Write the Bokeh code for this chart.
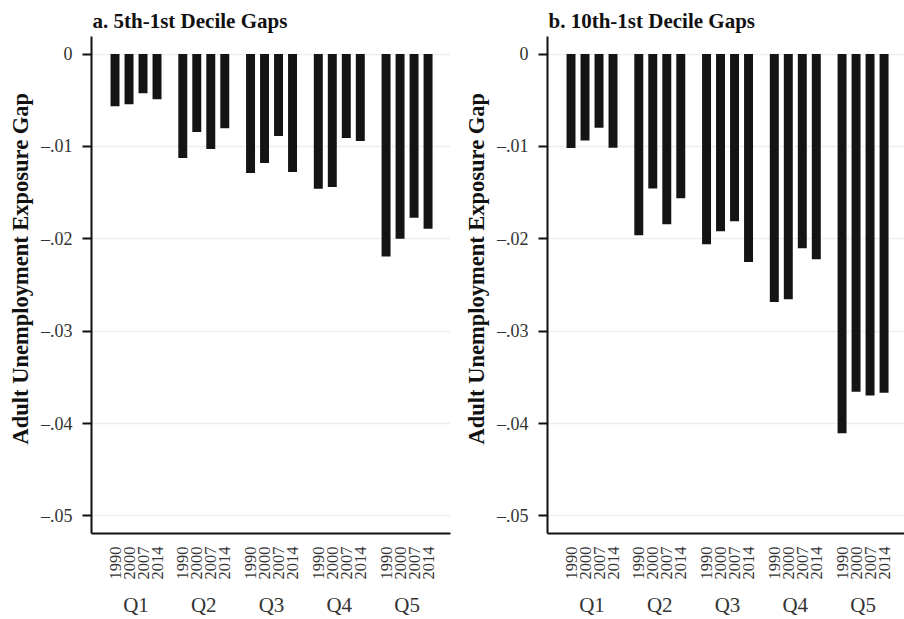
import math
from bokeh.plotting import figure
from bokeh.models import (ColumnDataSource, Range1d, LinearAxis, FixedTicker,
                          CustomJSTickFormatter, Title)
from bokeh.layouts import row
from bokeh.embed import file_html
from bokeh.resources import INLINE

# ---------------- data ----------------
quintiles = ["Q1", "Q2", "Q3", "Q4", "Q5"]
years = ["1990", "2000", "2007", "2014"]

# panel a: 5th-1st decile gaps (by quintile, years 1990/2000/2007/2014)
gap_5_1 = [
    -0.00565, -0.00543, -0.00424, -0.00489,   # Q1
    -0.01125, -0.00845, -0.01028, -0.00802,   # Q2
    -0.01287, -0.01179, -0.00888, -0.01276,   # Q3
    -0.01459, -0.01438, -0.00910, -0.00942,   # Q4
    -0.02192, -0.01998, -0.01772, -0.01890,   # Q5
]
# panel b: 10th-1st decile gaps
gap_10_1 = [
    -0.01016, -0.00937, -0.00797, -0.01013,   # Q1
    -0.01961, -0.01455, -0.01843, -0.01562,   # Q2
    -0.02058, -0.01918, -0.01810, -0.02252,   # Q3
    -0.02683, -0.02654, -0.02101, -0.02220,   # Q4
    -0.04106, -0.03656, -0.03696, -0.03667,   # Q5
]
y_ticks = [0, -0.01, -0.02, -0.03, -0.04, -0.05]

titles = ["a. 5th-1st Decile Gaps", "b. 10th-1st Decile Gaps"]
y_label = "Adult Unemployment Exposure Gap"

# ---------------- layout helpers ----------------
GROUP_STEP = 4.84
BAR_W = 0.64
pos = [g * GROUP_STEP + j for g in range(len(quintiles)) for j in range(len(years))]
year_labels = [y for _ in quintiles for y in years]
group_centers = [g * GROUP_STEP + (len(years) - 1) / 2 for g in range(len(quintiles))]

SERIF = "Liberation Serif"
BAR_COLOR = "#141414"
LOOKUP = """
    for (let k = 0; k < pos.length; k++) {
        if (Math.abs(pos[k] - tick) < 1e-6) return labs[k];
    }
    return '';
"""


def make_panel(values, title, width, left_border, right_border, x_end):
    p = figure(width=width, height=619, output_backend="svg", toolbar_location=None,
               x_range=Range1d(-1.68, x_end), y_range=Range1d(-0.0519, 0.0019),
               x_axis_type=None, min_border_left=left_border,
               min_border_right=right_border, min_border_top=36,
               min_border_bottom=85, title=title)
    p.outline_line_color = None
    p.background_fill_color = "white"
    p.border_fill_color = "white"

    p.title.text_font = SERIF
    p.title.text_font_style = "bold"
    p.title.text_font_size = "21px"
    p.title.text_color = "#111111"
    p.title.standoff = 8
    p.title.offset = 1

    src = ColumnDataSource(dict(x=pos, v=values))
    p.vbar(x="x", top=0, bottom="v", width=BAR_W, source=src,
           fill_color=BAR_COLOR, line_color=None)

    # y axis
    ya = p.yaxis[0]
    ya.ticker = FixedTicker(ticks=y_ticks)
    ya.formatter = CustomJSTickFormatter(code="""
        if (Math.abs(tick) < 1e-9) return '0';
        return '\u2013' + Math.abs(tick).toFixed(2).replace(/^0/, '');
    """)
    ya.axis_line_width = 2
    ya.axis_line_color = "#111111"
    ya.major_tick_line_width = 2
    ya.major_tick_line_color = "#111111"
    ya.major_tick_out = 9
    ya.major_tick_in = 0
    ya.minor_tick_line_color = None
    ya.minor_tick_out = 0
    ya.major_label_text_font = SERIF
    ya.major_label_text_font_size = "18px"
    ya.major_label_text_color = "#333333"
    ya.major_label_standoff = 10

    # y axis title (placed left of the axis, positioned along the side)
    yt = Title(text=y_label, align="left", offset=89, standoff=10,
               text_font=SERIF, text_font_style="bold",
               text_font_size="22.5px", text_color="#111111")
    p.add_layout(yt, "left")

    p.xgrid.grid_line_color = None
    p.ygrid.ticker = FixedTicker(ticks=y_ticks)
    p.ygrid.grid_line_color = "#eeeeee"
    p.ygrid.grid_line_width = 1.5

    # year axis
    xa = LinearAxis(ticker=FixedTicker(ticks=pos),
                    formatter=CustomJSTickFormatter(
                        args=dict(pos=pos, labs=year_labels), code=LOOKUP))
    xa.axis_line_width = 2
    xa.axis_line_color = "#111111"
    xa.major_tick_line_color = None
    xa.minor_tick_line_color = None
    xa.major_tick_out = 0
    xa.major_tick_in = 0
    xa.minor_tick_out = 0
    xa.minor_tick_in = 0
    xa.major_label_orientation = math.pi / 2
    xa.major_label_text_font = SERIF
    xa.major_label_text_font_size = "16.5px"
    xa.major_label_text_color = "#333333"
    xa.major_label_standoff = 13
    p.add_layout(xa, "below")

    # quintile group axis
    qa = LinearAxis(ticker=FixedTicker(ticks=group_centers),
                    formatter=CustomJSTickFormatter(
                        args=dict(pos=group_centers, labs=quintiles), code=LOOKUP))
    qa.axis_line_color = None
    qa.major_tick_line_color = None
    qa.minor_tick_line_color = None
    qa.major_tick_out = 0
    qa.major_tick_in = 0
    qa.minor_tick_out = 0
    qa.minor_tick_in = 0
    qa.major_label_text_font = SERIF
    qa.major_label_text_font_size = "21px"
    qa.major_label_text_color = "#333333"
    qa.major_label_standoff = 10
    p.add_layout(qa, "below")
    return p


p1 = make_panel(gap_5_1, titles[0], 455, 91, 5, -1.68 + 359 / 14)
p2 = make_panel(gap_10_1, titles[1], 449, 92, 0, -1.68 + 357 / 14)

layout = row(p1, p2)
open("out.html", "w").write(file_html(layout, INLINE))
